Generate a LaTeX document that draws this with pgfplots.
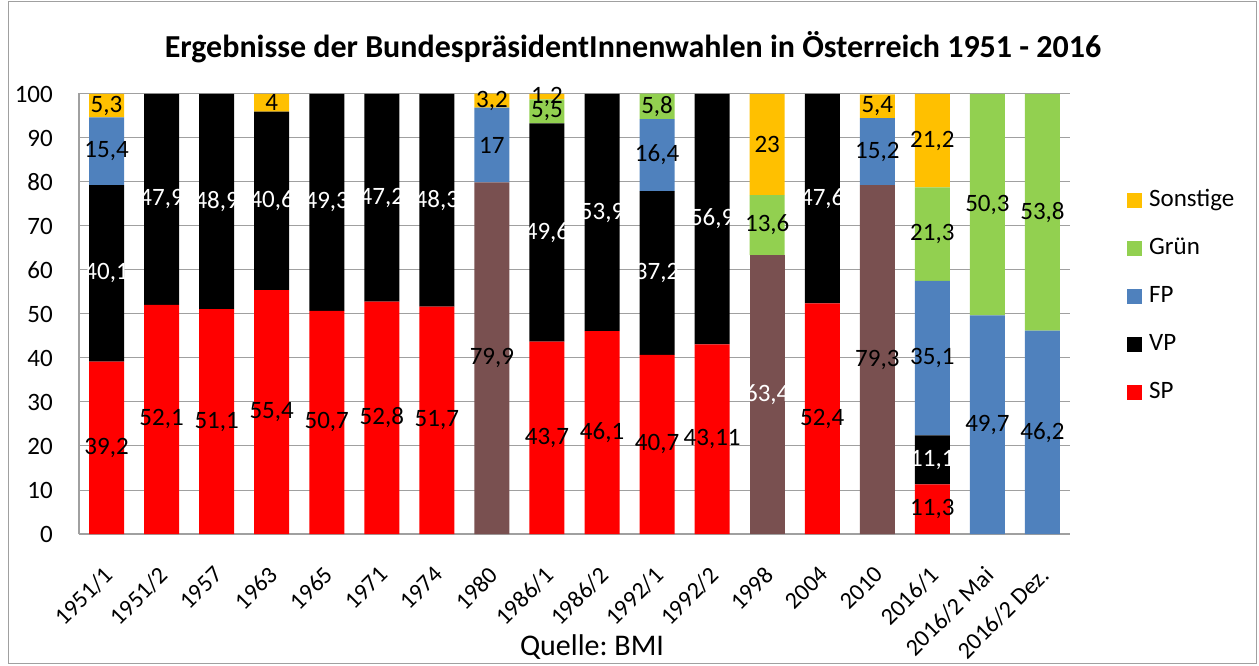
\documentclass[border=0pt]{standalone}
\usepackage{fontspec}
\setmainfont{Carlito}
\usepackage{pgfplots}
\pgfplotsset{compat=1.18}
\usepackage{pgfplotstable}
\frenchspacing

\definecolor{cSP}{HTML}{FF0000}
\definecolor{cVP}{HTML}{000000}
\definecolor{cFP}{HTML}{4F81BD}
\definecolor{cG}{HTML}{92D050}
\definecolor{cS}{HTML}{FFC000}
\definecolor{cBr}{HTML}{795050}
\definecolor{cGrid}{HTML}{A0A0A0}

\pgfplotstableread{
x SP SPa SPb VP FP G S
0 39.2 0 0 40.1 15.4 0 5.3
1 52.1 0 0 47.9 0 0 0
2 51.1 0 0 48.9 0 0 0
3 55.4 0 0 40.6 0 0 4
4 50.7 0 0 49.3 0 0 0
5 52.8 0 0 47.2 0 0 0
6 51.7 0 0 48.3 0 0 0
7 0 79.9 0 0 17 0 3.2
8 43.7 0 0 49.6 0 5.5 1.2
9 46.1 0 0 53.9 0 0 0
10 40.7 0 0 37.2 16.4 5.8 0
11 43.11 0 0 56.9 0 0 0
12 0 0 63.4 0 0 13.6 23
13 52.4 0 0 47.6 0 0 0
14 0 79.3 0 0 15.2 0 5.4
15 11.3 0 0 11.1 35.1 21.3 21.2
16 0 0 0 0 49.7 50.3 0
17 0 0 0 0 46.2 53.8 0
}\data

\newcommand\fs{\fontsize{25}{30}\selectfont}

\newcommand\seg[4]{%
\addplot[fill=#2, draw=none, #4,
  every node near coord/.append style={text=#3}]
  table[x=x, y=#1, meta=#1]{\data};}

\begin{document}
\begin{tikzpicture}[x=1pt,y=1pt]
\useasboundingbox (0,0) rectangle (1259,665);
\draw[cGrid, line width=1pt] (8,2) rectangle (1256,663);
\begin{axis}[
  at={(79pt,131pt)}, anchor=south west,
  scale only axis, width=991pt, height=440.9pt,
  ybar stacked, bar width=35pt,
  xmin=-0.5, xmax=17.5, ymin=0, ymax=100.2,
  xtick=data,
  xticklabels={1951/1,1951/2,1957,1963,1965,1971,1974,1980,1986/1,1986/2,1992/1,1992/2,1998,2004,2010,2016/1,2016/2 Mai,2016/2 Dez.},
  ytick={0,10,...,100},
  major tick length=0pt,
  axis x line*=bottom, axis y line*=left,
  axis line style={cGrid, line width=1.2pt, -},
  ymajorgrids, grid style={cGrid, line width=1pt},
  tick label style={font=\fs},
  /pgf/number format/assume math mode=true,
  /pgf/number format/.cd, use comma, 1000 sep={}, /pgfplots/.cd,
  xticklabel style={shift={(-4pt,-31pt)}, rotate=45, anchor=north east, inner sep=0pt, font=\fontsize{24}{28}\selectfont},
  yticklabel style={inner sep=0pt, xshift=-26pt},
  point meta=explicit,
  nodes near coords={\pgfmathfloatifflags{\pgfplotspointmeta}{0}{}{\pgfmathprintnumber{\pgfplotspointmeta}}},
  every node near coord/.append style={font=\fs, inner sep=0pt},
  legend image code/.code={\fill[#1] (0pt,-7.5pt) rectangle (15pt,7.5pt); \path (22pt,0pt);},
  reverse legend,
  legend style={draw=none, fill=none, font=\fs, at={(1.0575,0.782)}, anchor=north west,
    row sep=25pt, inner sep=0pt,
    nodes={inner sep=0pt, text height=17pt, text depth=6pt},
    /tikz/every even column/.append style={column sep=0pt}},
  legend cell align=left,
]
\seg{SP}{cSP}{black}{}
\addlegendentry{SP}
\seg{SPa}{cBr}{black}{forget plot}
\seg{SPb}{cBr}{white}{forget plot}
\seg{VP}{cVP}{white}{}
\addlegendentry{VP}
\seg{FP}{cFP}{black}{}
\addlegendentry{FP}
\seg{G}{cG}{black}{}
\addlegendentry{Grün}
\seg{S}{cS}{black}{}
\addlegendentry{Sonstige}
\end{axis}
\node[font=\bfseries\fontsize{32}{36}\selectfont] at (633,618) {Ergebnisse der BundespräsidentInnenwahlen in Österreich 1951 - 2016};
\node[font=\fontsize{30}{34}\selectfont, anchor=base] at (592,10) {Quelle: BMI};
\end{tikzpicture}
\end{document}
